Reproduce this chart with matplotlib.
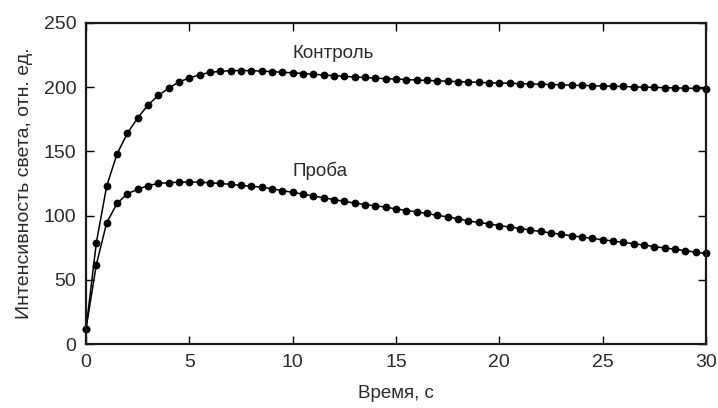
import matplotlib
matplotlib.use("Agg")
import matplotlib.pyplot as plt
import numpy as np

plt.rcParams['font.family'] = ['Liberation Sans', 'DejaVu Sans']

# time points, every 0.5 s
time_s = np.arange(0, 30.5, 0.5)

control = [12, 79, 123, 148, 164, 176, 186, 193.5, 199, 204,
           207, 209.5, 211.4, 212.2, 212.7, 212.8, 212.7, 212.4, 212, 211.4,
           211.1, 210.5, 209.9, 209.3, 208.8, 208.3, 207.8, 207.4, 206.9, 206.5,
           206.2, 205.8, 205.4, 205.1, 204.8, 204.5, 204.2, 203.9, 203.6, 203.3,
           203.1, 202.9, 202.6, 202.4, 202.2, 201.9, 201.7, 201.4, 201.2, 201.0,
           200.8, 200.6, 200.4, 200.1, 199.9, 199.7, 199.5, 199.3, 199.1, 198.9,
           198.7]

sample = [12, 62, 94.5, 109.5, 117, 120.5, 123.4, 125, 125.7, 126,
          126.2, 126, 125.6, 125, 124.3, 123.5, 122.9, 122.1, 120.9, 119.5,
          118.1, 116.7, 115.3, 113.9, 112.5, 111.1, 109.8, 108.6, 107.6, 106.7,
          105.2, 104.0, 103.0, 101.7, 100.2, 99.1, 97.5, 95.9, 94.7, 93.6,
          92.2, 91.2, 90.0, 88.8, 87.7, 86.6, 85.5, 84.3, 83.4, 82.3,
          81.3, 80.3, 79.2, 78.2, 77.1, 75.9, 74.9, 73.9, 72.8, 71.6,
          70.6]

labels = ["Контроль", "Проба"]
label_pos = [(10, 226), (10, 134.5)]

text_color = "#2a2a2a"

fig = plt.figure(figsize=(7.18, 4.08), dpi=100)
ax = fig.add_axes([0.1198, 0.1561, 0.8635, 0.7883])

for series in (control, sample):
    ax.plot(time_s, series, color="black", linewidth=1.1, marker="o",
            markersize=5.6, markerfacecolor="black", markeredgewidth=0,
            clip_on=False)

for lab, (lx, ly) in zip(labels, label_pos):
    ax.text(lx, ly, lab, fontsize=13.5, color=text_color, ha="left", va="center")

ax.set_xlim(0, 30)
ax.set_ylim(0, 250)
ax.set_xticks([0, 5, 10, 15, 20, 25, 30])
ax.set_yticks([0, 50, 100, 150, 200, 250])

for spine in ax.spines.values():
    spine.set_linewidth(1.6)
    spine.set_color("#1a1a1a")

ax.tick_params(direction="in", length=6, width=1.0, top=True, right=True,
               labelsize=14, labelcolor=text_color, pad=7)

ax.set_xlabel("Время, с", fontsize=13.5, color=text_color, labelpad=10)
ax.set_ylabel("Интенсивность света, отн. ед.", fontsize=14, color=text_color, labelpad=8)

fig.savefig("out.png", dpi=100)
